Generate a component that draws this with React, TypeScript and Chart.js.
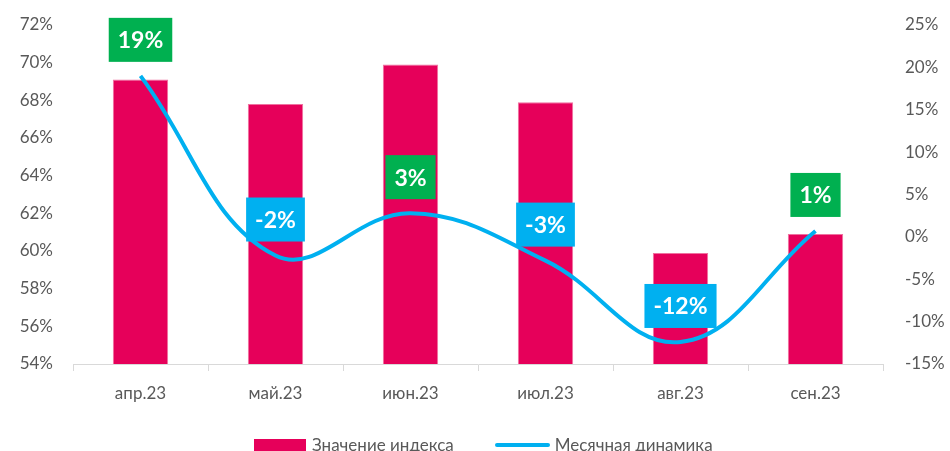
import React, { useEffect, useRef } from "react";
import { Chart, registerables } from "chart.js";

Chart.register(...registerables);

const categories = ["апр.23", "май.23", "июн.23", "июл.23", "авг.23", "сен.23"];
const indexValues = [69.1, 67.8, 69.9, 67.9, 59.9, 60.9];
const monthlyChange = [19, -2.2, 2.8, -2.8, -12.4, 0.7];
const seriesNames = ["Значение индекса", "Месячная динамика"];

const BAR_COLOR = "#E6005A";
const LINE_COLOR = "#00B0F0";
const POS_COLOR = "#00B050";
const NEG_COLOR = "#00B0F0";
const TEXT_COLOR = "#595959";
const FONT = "Lato, 'Open Sans', sans-serif";

const labelPlugin = {
  id: "boxLabels",
  afterDatasetsDraw(chart: any) {
    const meta = chart.getDatasetMeta(1);
    const ctx = chart.ctx;
    ctx.save();
    ctx.font = `bold 23px ${FONT}`;
    ctx.textAlign = "center";
    ctx.textBaseline = "middle";
    meta.data.forEach((pt: any, i: number) => {
      const v = monthlyChange[i];
      const txt = `${Math.round(v)}%`;
      const w = ctx.measureText(txt).width + 18;
      const h = 44;
      const bottom = pt.y - 14;
      ctx.fillStyle = v >= 0 ? POS_COLOR : NEG_COLOR;
      ctx.fillRect(pt.x - w / 2, bottom - h, w, h);
      ctx.fillStyle = "#ffffff";
      ctx.fillText(txt, pt.x, bottom - h / 2 + 1);
    });
    ctx.restore();
  },
};

export default function App() {
  const ref = useRef<HTMLCanvasElement | null>(null);
  useEffect(() => {
    document.body.style.margin = "0";
    if (!ref.current) return;
    const chart = new Chart(ref.current, {
      type: "bar",
      data: {
        labels: categories,
        datasets: [
          {
            type: "bar",
            label: seriesNames[0],
            data: indexValues,
            backgroundColor: BAR_COLOR,
            borderColor: "#F0709F",
            borderWidth: 1,
            barPercentage: 0.41,
            categoryPercentage: 1,
            yAxisID: "y",
            order: 2,
          },
          {
            type: "line",
            label: seriesNames[1],
            data: monthlyChange,
            borderColor: LINE_COLOR,
            borderWidth: 4,
            pointRadius: 0,
            tension: 0.4,
            fill: false,
            yAxisID: "y1",
            order: 1,
            clip: false as any,
          },
        ],
      },
      options: {
        responsive: false,
        animation: false,
        layout: { padding: { top: 25, bottom: 47, left: 0, right: 0 } },
        plugins: {
          legend: { display: false },
          tooltip: { enabled: false },
        },
        scales: {
          x: {
            grid: {
              display: true,
              drawOnChartArea: false,
              drawTicks: true,
              tickLength: 7,
              color: "#D9D9D9",
              offset: true,
            },
            border: { display: true, color: "#D9D9D9", width: 1 },
            ticks: {
              color: TEXT_COLOR,
              font: { family: FONT, size: 17 },
              padding: 12,
            },
            afterFit: (s: any) => {
              s.height = 40;
            },
          },
          y: {
            position: "left",
            min: 54,
            max: 72,
            grid: { display: false, drawTicks: true, tickLength: 17 },
            border: { display: false },
            ticks: {
              stepSize: 2,
              color: TEXT_COLOR,
              font: { family: FONT, size: 17 },
              padding: 3,
              callback: (v: any) => `${v}%`,
            },
            afterFit: (s: any) => {
              s.width = 73;
            },
          },
          y1: {
            position: "right",
            min: -15,
            max: 25,
            grid: { display: false, drawTicks: true, tickLength: 19 },
            border: { display: false },
            ticks: {
              stepSize: 5,
              color: TEXT_COLOR,
              font: { family: FONT, size: 17 },
              padding: 3,
              callback: (v: any) => `${v}%`,
            },
            afterFit: (s: any) => {
              s.width = 67;
            },
          },
        },
      },
      plugins: [labelPlugin],
    });
    return () => chart.destroy();
  }, []);

  return (
    <div style={{ position: "relative", width: 950, height: 451, overflow: "hidden" }}>
      <canvas ref={ref} width={950} height={451} style={{ display: "block" }} />
      <div
        style={{
          position: "absolute",
          top: 435,
          left: 254,
          display: "flex",
          alignItems: "center",
          fontFamily: FONT,
          fontSize: 17,
          color: TEXT_COLOR,
          whiteSpace: "nowrap",
          lineHeight: "20px",
        }}
      >
        <span style={{ display: "inline-block", width: 52, height: 12, background: BAR_COLOR, marginRight: 6 }} />
        <span>{seriesNames[0]}</span>
        <span
          style={{
            display: "inline-block",
            width: 55,
            height: 4,
            borderRadius: 2,
            background: LINE_COLOR,
            marginLeft: 41,
            marginRight: 5,
          }}
        />
        <span>{seriesNames[1]}</span>
      </div>
    </div>
  );
}
